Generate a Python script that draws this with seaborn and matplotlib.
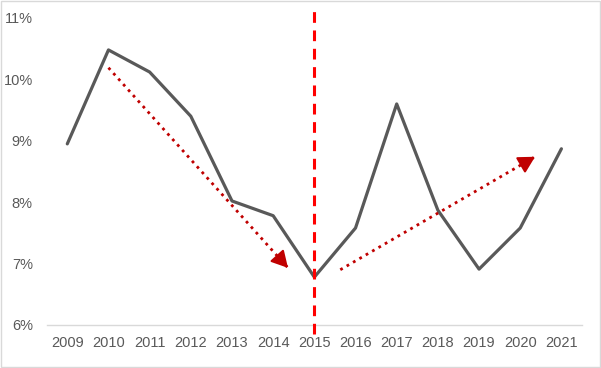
import matplotlib
matplotlib.use("Agg")
import matplotlib.pyplot as plt
import seaborn as sns
import pandas as pd
import numpy as np

# values (percent)
years = ["2009", "2010", "2011", "2012", "2013", "2014", "2015",
         "2016", "2017", "2018", "2019", "2020", "2021"]
rates = [8.95, 10.48, 10.12, 9.40, 8.02, 7.78, 6.78,
         7.58, 9.60, 7.87, 6.91, 7.58, 8.87]
yticks = [6, 7, 8, 9, 10, 11]
split_year = "2015"
# trend arrows: (x start, y start, x end, y end) in year index / percent
arrow_down = (1.0, 10.19, 5.36, 6.93)
arrow_up = (6.63, 6.90, 11.36, 8.74)

sns.set_style("white")
plt.rcParams['font.family'] = ['Liberation Sans', 'DejaVu Sans']

df = pd.DataFrame({"x": np.arange(len(years)), "rate": rates})

fig = plt.figure(figsize=(6.01, 3.68), dpi=100)
ax = fig.add_axes([46.7 / 601, 1 - 325 / 368, (582 - 46.7) / 601, (325 - 18) / 368])

sns.lineplot(data=df, x="x", y="rate", ax=ax, color="#595959", linewidth=2.3)

ax.set_xlim(-0.5, len(years) - 0.5)
ax.set_ylim(6, 11)
ax.set_yticks(yticks)
ax.set_yticklabels([f"{v}%" for v in yticks])
ax.set_xticks(np.arange(len(years)))
ax.set_xticklabels(years)
ax.set_xticks(np.arange(len(years) + 1) - 0.5, minor=True)
ax.set_xlabel("")
ax.set_ylabel("")

for s in ["top", "right", "left"]:
    ax.spines[s].set_visible(False)
ax.spines["bottom"].set_color("#D9D9D9")
ax.spines["bottom"].set_linewidth(1)
ax.tick_params(axis="x", which="major", length=0, pad=8, labelsize=10.5, labelcolor="#595959")
ax.tick_params(axis="x", which="minor", length=4, color="#D9D9D9", width=1, direction="out")
ax.tick_params(axis="y", length=0, pad=10, labelsize=10.5, labelcolor="#595959")

# vertical split line at 2015
sx = years.index(split_year)
ax.axvline(sx, ymin=-0.03, ymax=1.04, color="#FF0000", linestyle=(0, (3.5, 2.5)),
           linewidth=2.2, clip_on=False, zorder=5)

# dotted trend arrows
for x0, y0, x1, y1 in [arrow_down, arrow_up]:
    ax.plot([x0, x1], [y0, y1], color="#C00000", linestyle=":", linewidth=2, zorder=4)
    dx, dy = x1 - x0, y1 - y0
    ax.annotate("", xy=(x1, y1), xytext=(x1 - dx * 0.05, y1 - dy * 0.05),
                arrowprops=dict(arrowstyle="-|>,head_length=1.0,head_width=0.55",
                                color="#C00000", linewidth=1.5, shrinkA=0, shrinkB=0),
                zorder=4)

# light border around the whole picture
fig.patches.append(plt.Rectangle((0.002, 0.003), 0.996, 0.994, transform=fig.transFigure,
                                 fill=False, edgecolor="#D9D9D9", linewidth=1))

fig.savefig("out.png", dpi=100)
